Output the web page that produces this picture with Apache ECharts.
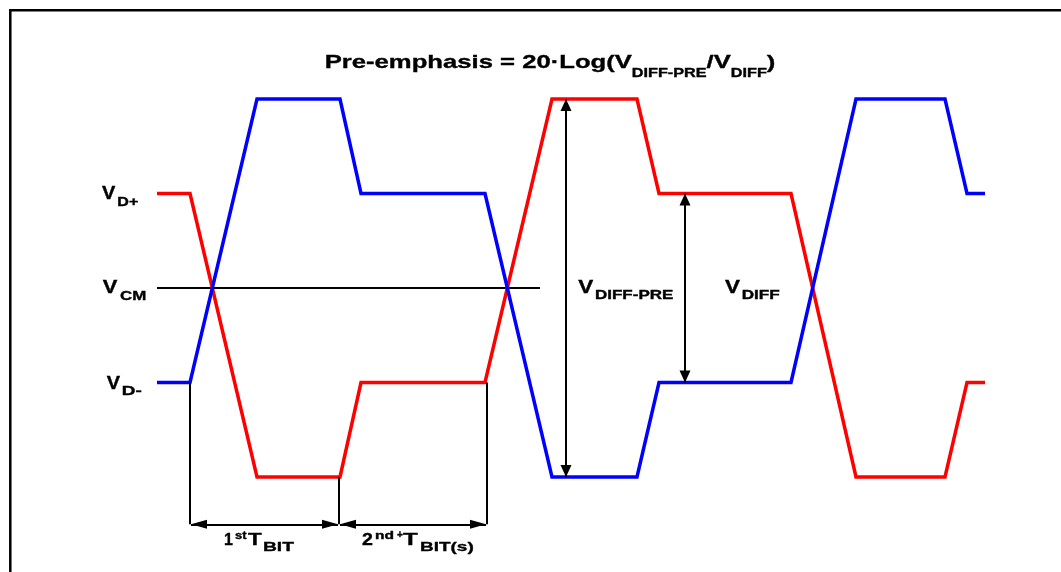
<!DOCTYPE html>
<html><head><meta charset="utf-8">
<script src="https://cdn.jsdelivr.net/npm/echarts@6/dist/echarts.min.js"></script>
<style>html,body{margin:0;padding:0;background:#fff}#c{width:1061px;height:572px}</style>
</head><body><div id="c"></div>
<script>
// time points (arbitrary time units) and signal levels (units of V_DIFF/2 around V_CM)
const timePoints = [157, 190, 257, 340, 361, 485, 552, 637, 659, 791, 856, 945, 967, 985];
const vdPlus     = [1, 1, -2, -2, -1, -1, 2, 2, 1, 1, -2, -2, -1, -1];
const vdMinus    = [-1, -1, 2, 2, 1, 1, -2, -2, -1, -1, 2, 2, 1, 1];
const vcmTimes   = [157, 540];
const vcmLevels  = [0, 0];
// bit-time dimension markers
const bitEdges      = [190, 339, 487];
const bitEdgeLevels = [-1, -2, -1];
const dimLevel      = -2.5;
// amplitude arrows
const ampArrowTimes = [566, 685];
const ampArrowTop   = [2, 1];
const ampArrowBot   = [-2, -1];

const FAM = '"Liberation Sans", Arial, sans-serif';
const chart = echarts.init(document.getElementById('c'), null, {renderer: 'canvas'});
const zip = (xs, ys) => xs.map((x, i) => [x, ys[i]]);

// text piece fitted to an ink box: [left, right] horizontally, sitting on a baseline
const mctx = document.createElement('canvas').getContext('2d');
function piece(str, left, right, baseline, size) {
  const font = 'bold ' + size + 'px ' + FAM;
  mctx.font = font;
  mctx.textBaseline = 'middle';
  const m = mctx.measureText(str);
  const h = mctx.measureText('H');
  const ink = m.actualBoundingBoxLeft + m.actualBoundingBoxRight;
  const sx = (right - left) / ink;
  return {type: 'text', silent: true, x: left + m.actualBoundingBoxLeft * sx, y: baseline - h.actualBoundingBoxDescent,
    scaleX: sx, style: {text: str, fontFamily: FAM, fontWeight: 'bold', fontSize: size, fill: '#000',
      stroke: '#000', lineWidth: 0.35, align: 'left', verticalAlign: 'middle'}};
}

const plainLines = bitEdges.map((t, i) => [{coord: [t, bitEdgeLevels[i]]}, {coord: [t, dimLevel]}]);
const hArrows = [];
for (let i = 0; i < bitEdges.length - 1; i++) {
  hArrows.push([{coord: [bitEdges[i] + 1, dimLevel]}, {coord: [bitEdges[i + 1] - 1, dimLevel]}]);
}
const vArrows = ampArrowTimes.map((t, i) => [{coord: [t, ampArrowTop[i]]}, {coord: [t, ampArrowBot[i]]}]);

const titleRich = {
  b: {fontFamily: FAM, fontWeight: 'bold', fontSize: 19, lineHeight: 35, verticalAlign: 'middle', fill: '#000', stroke: '#000', lineWidth: 0.35},
  s: {fontFamily: FAM, fontWeight: 'bold', fontSize: 12, lineHeight: 12, verticalAlign: 'bottom', fill: '#000', stroke: '#000', lineWidth: 0.35}
};
const arrowBase = {silent: true, animation: false, label: {show: false},
  lineStyle: {color: '#000', width: 2, type: 'solid'}, itemStyle: {color: '#000'}, emphasis: {disabled: true}};

chart.setOption({
  animation: false,
  backgroundColor: '#fff',
  grid: {left: 0, top: 4.5, width: 1061, height: 567, containLabel: false},
  xAxis: {type: 'value', min: 0, max: 1061, show: false},
  yAxis: {type: 'value', min: -3, max: 3, show: false},
  graphic: [
    {type: 'rect', shape: {x: 10.3, y: 10.3, width: 1200, height: 700}, style: {fill: 'none', stroke: '#000', lineWidth: 2.5}, silent: true},
    {type: 'text', x: 550, y: 62.5, scaleX: 1.35, silent: true, style: {
      text: '{b|Pre-emphasis = 20·Log(V}{s|DIFF-PRE}{b|/V}{s|DIFF}{b|)}', rich: titleRich, align: 'center', verticalAlign: 'middle'}},
    piece('V', 102, 115.3, 199, 18), piece('D+', 117.3, 138.3, 205.7, 12),
    piece('V', 102.7, 117.3, 293.3, 18), piece('CM', 120, 145.7, 300, 12.5),
    piece('V', 106.7, 120, 389.3, 18), piece('D-', 121.7, 141.7, 395, 12),
    piece('V', 578.3, 593.3, 293.3, 18), piece('DIFF-PRE', 595, 673.3, 299.3, 12),
    piece('V', 725, 740, 293.3, 18), piece('DIFF', 741.7, 779.3, 299.3, 12),
    piece('1', 225, 233, 545, 16), piece('st', 235, 247, 539, 11), piece('T', 248, 262, 545, 16), piece('BIT', 263, 295, 550.7, 13.5),
    piece('2', 362, 373, 545, 16), piece('nd', 375, 393, 539, 11), piece('+', 397, 403, 538, 10), piece('T', 403, 418, 545, 16),
    piece('BIT(s)', 420, 473, 550.7, 13.5)
  ],
  series: [
    {type: 'line', name: 'VCM', data: zip(vcmTimes, vcmLevels), symbol: 'none', lineStyle: {color: '#000', width: 2}, z: 1},
    {type: 'line', name: 'D+', data: zip(timePoints, vdPlus), symbol: 'none', lineStyle: {color: '#ff0000', width: 3.5, join: 'miter'}, z: 3},
    {type: 'line', name: 'D-', data: zip(timePoints, vdMinus), symbol: 'none', lineStyle: {color: '#0000ff', width: 3.5, join: 'miter'}, z: 4},
    {type: 'line', name: 'dims', data: [], z: 5,
      markLine: Object.assign({}, arrowBase, {symbol: ['none', 'none'], data: plainLines})},
    {type: 'line', name: 'hArrows', data: [], z: 5,
      markLine: Object.assign({}, arrowBase, {symbol: ['triangle', 'triangle'], symbolSize: [9, 16],
        symbolOffset: [[0, 8], [0, 8]], data: hArrows})},
    {type: 'line', name: 'vArrows', data: [], z: 5,
      markLine: Object.assign({}, arrowBase, {symbol: ['triangle', 'triangle'], symbolSize: [11, 12],
        symbolOffset: [[0, 6], [0, 6]], data: vArrows})}
  ]
});
</script></body></html>
